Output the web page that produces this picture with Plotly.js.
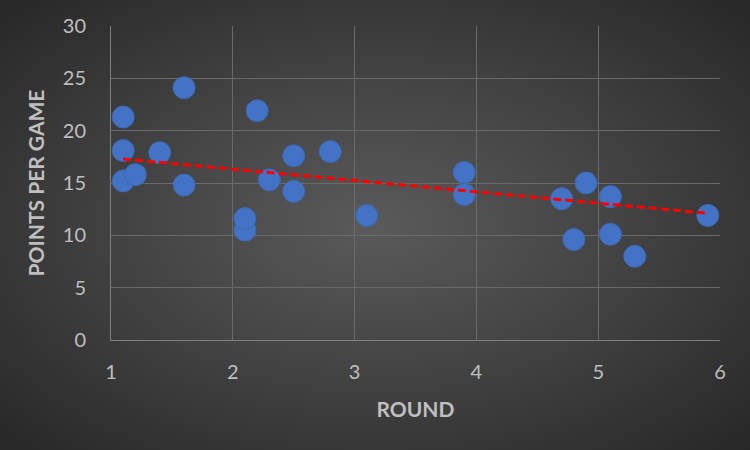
<!DOCTYPE html>
<html>
<head>
<meta charset="utf-8">
<script src="https://cdn.plot.ly/plotly-3.0.1.min.js"></script>
<style>
html,body{margin:0;padding:0;}
#chart{width:750px;height:450px;background:radial-gradient(ellipse at 50% 50%, #5a5a5a 0%, #444444 45%, #272727 100%);}
</style>
</head>
<body>
<div id="chart"></div>
<script>
var roundVals = [1.1, 1.1, 1.1, 1.2, 1.4, 1.6, 1.6, 2.1, 2.1, 2.2, 2.3, 2.5, 2.5, 2.8, 3.1, 3.9, 3.9, 4.7, 4.9, 5.1, 5.1, 4.8, 5.3, 5.9];
var ppgVals   = [21.3, 18.1, 15.2, 15.8, 17.9, 24.1, 14.8, 10.5, 11.6, 21.9, 15.3, 17.6, 14.2, 18.0, 11.9, 16.0, 13.9, 13.5, 15.0, 13.7, 10.1, 9.6, 8.0, 11.9];
var trendX = [1.1, 5.9];
var trendY = [17.3, 12.1];
var xTicks = [1, 2, 3, 4, 5, 6];
var yTicks = [0, 5, 10, 15, 20, 25, 30];

var font = "Lato, 'Open Sans', sans-serif";
var traces = [
  {x: roundVals, y: ppgVals, mode: 'markers', type: 'scatter', hoverinfo: 'x+y',
   marker: {size: 22, color: '#4472C4', line: {color: '#3d68b5', width: 1}}},
  {x: trendX, y: trendY, mode: 'lines', type: 'scatter',
   line: {color: '#FF0000', width: 3, dash: '8px,4px'}}
];
var axisCommon = {
  showgrid: true, gridcolor: '#6a6a6a', gridwidth: 1,
  zeroline: false, showline: true, linecolor: '#7f7f7f', linewidth: 1, mirror: false,
  tickfont: {family: font, size: 20, color: '#bfbfbf'}, ticks: ''
};
var layout = {
  width: 750, height: 450,
  paper_bgcolor: 'rgba(0,0,0,0)', plot_bgcolor: 'rgba(0,0,0,0)',
  showlegend: false,
  margin: {l: 111, r: 30, t: 26, b: 110},
  xaxis: Object.assign({}, axisCommon, {
    range: [1, 6], tickvals: xTicks, ticklabelstandoff: 14,
    title: {text: 'ROUND', font: {family: font, size: 21, color: '#bfbfbf', weight: 'bold'}, standoff: 20}
  }),
  yaxis: Object.assign({}, axisCommon, {
    range: [0, 30], tickvals: yTicks, ticklabelstandoff: 20,
    title: {text: 'POINTS PER GAME', font: {family: font, size: 21, color: '#bfbfbf', weight: 'bold'}, standoff: 12}
  })
};
Plotly.newPlot('chart', traces, layout, {displayModeBar: false});
</script>
</body>
</html>
